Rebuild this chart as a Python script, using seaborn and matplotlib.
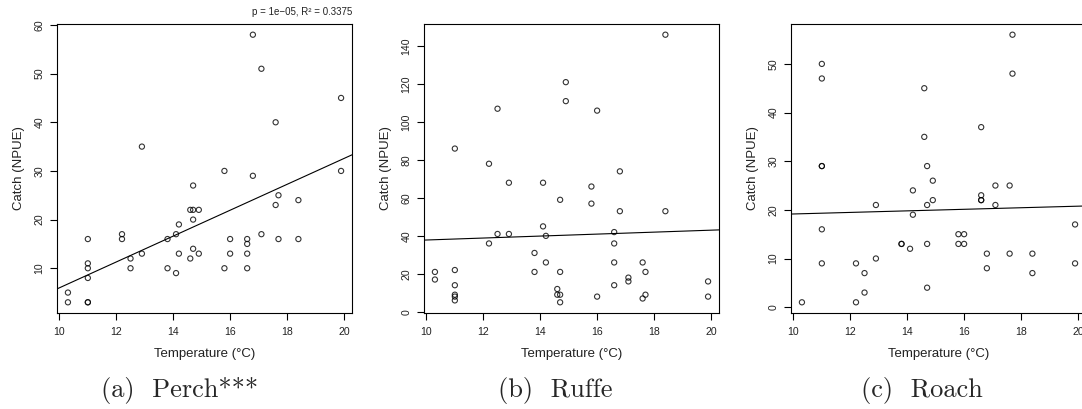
import numpy as np
import pandas as pd
import seaborn as sns
from matplotlib import pyplot as plt

# temperature of each sampling (same for all species)
temperature = [10.3, 10.3, 11, 11, 11, 11, 11, 11, 12.2, 12.2, 12.5, 12.5, 12.9, 12.9,
               13.8, 13.8, 14.1, 14.1, 14.2, 14.2, 14.6, 14.6, 14.7, 14.7, 14.7, 14.7,
               14.9, 14.9, 15.8, 15.8, 16.0, 16.0, 16.6, 16.6, 16.6, 16.6, 16.8, 16.8,
               17.1, 17.1, 17.6, 17.6, 17.7, 17.7, 18.4, 18.4, 19.9, 19.9]

perch = [5, 3, 16, 11, 10, 8, 3, 3, 17, 16, 12, 10, 35, 13,
         16, 10, 17, 9, 19, 13, 22, 12, 27, 22, 20, 14,
         22, 13, 30, 10, 16, 13, 16, 15, 13, 10, 58, 29,
         51, 17, 40, 23, 25, 16, 24, 16, 45, 30]

ruffe = [21, 17, 86, 22, 14, 9, 8, 6, 78, 36, 107, 41, 68, 41,
         31, 21, 68, 45, 40, 26, 12, 9, 59, 21, 9, 5,
         121, 111, 66, 57, 106, 8, 42, 36, 26, 14, 74, 53,
         18, 16, 26, 7, 21, 9, 146, 53, 16, 8]

# two samplings without a roach value
roach = [1, np.nan, 50, 47, 29, 29, 16, 9, 9, 1, 7, 3, 21, 10,
         13, 13, 12, np.nan, 24, 19, 45, 35, 29, 21, 13, 4,
         26, 22, 15, 13, 15, 13, 37, 23, 22, 22, 11, 8,
         25, 21, 25, 11, 56, 48, 11, 7, 17, 9]

species = ["Perch", "Ruffe", "Roach"]
captions = ["(a)  Perch***", "(b)  Ruffe", "(c)  Roach"]
yticks = [np.arange(10, 61, 10), np.arange(0, 141, 20), np.arange(0, 51, 10)]

df = pd.DataFrame({"temperature": temperature * 3,
                   "catch": perch + ruffe + roach,
                   "species": np.repeat(species, len(temperature))})
df = df.dropna()

sns.set_style("white")
plt.rcParams["font.family"] = ["Liberation Sans", "DejaVu Sans"]

fig = plt.figure(figsize=(10.82, 4.09), dpi=100)
W, H = 1082, 409
lefts = [57, 424, 791]
cap_x = [180, 555, 922]


def rlim(v):
    # R style axis range: data range plus 4 %
    lo, hi = min(v), max(v)
    d = (hi - lo) * 0.04
    return lo - d, hi + d


for i, sp in enumerate(species):
    ax = fig.add_axes([lefts[i] / W, 1 - 313 / H, 295 / W, 289 / H])
    sub = df[df["species"] == sp]
    ax.set_xlim(*rlim(df["temperature"]))
    ax.set_ylim(*rlim(sub["catch"]))
    sns.regplot(data=sub, x="temperature", y="catch", ax=ax, ci=None, truncate=False,
                marker="o",
                scatter_kws=dict(facecolors="none", edgecolors="black", s=14, linewidths=0.8),
                line_kws=dict(color="black", lw=0.8))
    ax.set_xticks(np.arange(10, 21, 2))
    ax.set_yticks(yticks[i])
    ax.tick_params(axis="both", direction="out", length=5, width=0.8, labelsize=7.6,
                   color="black", labelcolor="#222222", bottom=True, left=True)
    ax.tick_params(axis="y", labelrotation=90, pad=4)
    ax.tick_params(axis="x", pad=5)
    for lab in ax.get_yticklabels():
        lab.set_va("center")
    for s in ax.spines.values():
        s.set_visible(True)
        s.set_color("black")
        s.set_linewidth(0.8)
    ax.set_xlabel("Temperature (°C)", fontsize=9.5, color="#222222")
    ax.set_ylabel("Catch (NPUE)", fontsize=9.5, color="#222222")
    ax.xaxis.set_label_coords(0.5, -0.12)
    ax.yaxis.set_label_coords(-0.11, 0.5)
    fig.text(cap_x[i] / W, 1 - 390 / H, captions[i], family=["cmr10", "DejaVu Serif"],
             fontsize=19, ha="center", va="center")
    if i == 0:
        ax.text(1.0, 1.025, "p = 1e\u221205, R\u00b2 = 0.3375", transform=ax.transAxes,
                ha="right", va="bottom", fontsize=7, color="#222222")

fig.savefig("out.png", dpi=100)
